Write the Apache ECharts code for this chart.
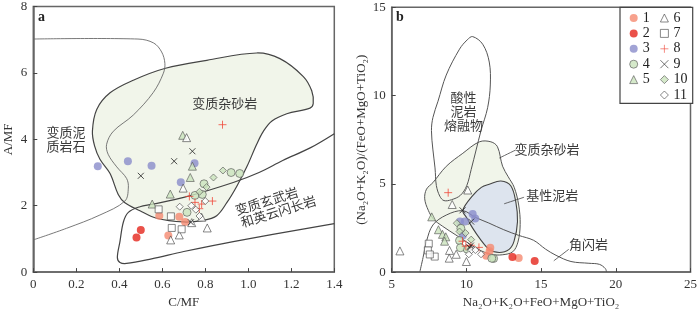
<!DOCTYPE html>
<html><head><meta charset="utf-8">
<script src="https://cdn.jsdelivr.net/npm/echarts@6/dist/echarts.min.js"></script>
<style>html,body{margin:0;padding:0;background:#fff}#c{width:700px;height:314px}</style>
</head><body><div id="c"></div>
<script>
// ---------- Panel a : C/MF (x) vs A/MF (y) ----------
const aS1 = [[0.586,1.70],[0.679,1.67],[0.706,1.51],[0.628,1.10]];
const aS2 = [[0.50,1.27],[0.48,1.04]];
const aS3 = [[0.30,3.19],[0.44,3.34],[0.55,3.20],[0.75,3.28],[0.686,2.71]];
const aS4 = [[0.92,3.0],[0.96,2.97],[0.794,2.66],[0.752,2.31],[0.786,2.34],[0.715,1.80]];
const aS5 = [[0.695,4.12],[0.74,3.19],[0.73,2.85],[0.637,2.35],[0.553,2.05]];
const aS6 = [[0.713,4.05],[0.697,2.53],[0.737,1.49],[0.809,1.33],[0.679,1.12],[0.639,0.97],[0.783,1.65]];
const aS7 = [[0.583,1.89],[0.64,1.68],[0.644,1.33],[0.69,1.29]];
const aS8 = [[0.88,4.44],[0.726,2.28],[0.752,2.10],[0.783,2.05],[0.833,2.14],[0.772,1.91]];
const aS9 = [[0.74,3.64],[0.655,3.34],[0.50,2.90],[0.733,1.50]];
const aS10 = [[0.882,3.06],[0.838,2.85],[0.806,2.56],[0.773,2.42]];
const aS11 = [[0.681,1.97],[0.735,2.0],[0.756,1.88],[0.80,2.14],[0.773,1.69]];

// field boundaries, panel a
const aPelite = [[0,7.02],[0.487,7.02],[0.56,6.9],[0.597,6.63],[0.612,6.29],[0.605,5.99],[0.558,5.41],[0.465,4.73],[0.372,4.24],[0.341,3.85],[0.348,3.55],[0.388,3.17],[0.434,2.82],[0.442,2.53],[0.426,2.14],[0.31,1.72],[0.155,1.32],[0,0.97]];
const aGreywacke = [[0.357,2.97],[0.31,3.4],[0.285,3.8],[0.275,4.25],[0.295,4.9],[0.357,5.4],[0.465,5.78],[0.615,6.14],[0.807,6.38],[1.039,6.6],[1.147,6.43],[1.256,5.89],[1.295,5.46],[1.302,5.08],[1.287,4.94],[1.179,4.77],[1.11,4.55],[1.07,4.24],[1.039,3.85],[0.993,3.17],[0.946,2.58],[0.90,2.09],[0.853,1.70],[0.791,1.56],[0.698,1.51],[0.57,1.63],[0.496,1.85],[0.426,2.09],[0.395,2.34]];
const aBasalt = [[1.40,4.17],[1.29,3.75],[1.16,3.36],[1.05,3.0],[0.93,2.7],[0.70,2.25],[0.55,2.04],[0.496,1.97],[0.442,1.80],[0.419,1.51],[0.403,0.92],[0.391,0.44],[0.403,0.29],[0.434,0.26],[0.55,0.40],[0.70,0.62],[0.93,0.92],[1.40,1.46]];

// ---------- Panel b : Na2O+K2O+FeO+MgO+TiO2 (x) vs ratio (y) ----------
const bS1 = [[13.5,0.8],[11.55,1.18],[11.33,0.92],[11.6,1.38]];
const bS2 = [[13.08,0.85],[14.57,0.63]];
const bS3 = [[10.42,3.29],[10.59,3.04],[9.57,2.86],[9.9,2.86],[9.76,2.07]];
const bS4 = [[9.54,1.79],[9.63,2.48],[10.05,1.3],[11.82,0.77],[11.7,0.78],[9.6,1.38]];
const bS5 = [[7.68,3.13],[8.13,2.40],[8.4,2.14],[8.62,2.0],[8.54,1.75]];
const bS6 = [[5.55,1.2],[10.09,4.65],[9.05,3.83],[8.87,1.23],[8.85,0.79],[10.0,0.6],[9.32,1.01]];
const bS7 = [[7.48,1.61],[7.42,1.23],[7.88,0.88],[7.55,1.0]];
const bS8 = [[8.78,4.5],[9.74,1.75],[9.96,1.47],[10.84,1.40],[10.3,1.52]];
const bS9 = [[9.74,3.5],[10.32,2.86],[10.3,1.5],[10.2,1.4]];
const bS10 = [[9.36,2.77],[9.54,2.3],[9.94,2.21],[10.32,1.84]];
const bS11 = [[10.32,1.23],[10.16,1.01],[10.98,1.01],[10.6,1.25]];

// field boundaries, panel b
const bMelt = [[10.42,13.34],[11.09,12.91],[11.53,11.9],[11.6,10.6],[11.42,9.31],[10.98,8.02],[10.65,6.92],[10.32,5.81],[10.02,4.89],[9.6,4.35],[9.0,4.1],[8.5,4.05],[8.22,4.3],[7.99,4.9],[7.9,5.9],[7.76,6.92],[7.66,8.02],[7.76,8.76],[8.1,9.68],[8.65,11.16],[9.54,12.63],[10.05,13.15]];
const bGreywacke = [[10.87,7.38],[11.64,7.38],[12.08,7.1],[12.42,6.0],[12.8,5.4],[13.2,4.8],[13.5,3.8],[13.6,2.7],[13.45,1.7],[13.1,1.15],[12.4,0.98],[11.7,1.0],[11.0,1.2],[10.2,1.6],[9.3,2.1],[8.4,2.6],[7.8,3.0],[7.45,3.5],[7.21,4.15],[7.33,4.7],[7.76,5.07],[8.65,5.99],[9.76,6.73]];
const bBasic = [[9.76,3.5],[10.42,4.33],[11.0,4.8],[11.53,4.98],[12.31,5.16],[12.97,4.89],[13.31,3.96],[13.42,2.86],[13.19,1.75],[12.86,1.29],[12.2,1.11],[11.53,1.29],[10.9,1.9],[10.42,2.49],[10.0,3.1]];
const bHorn = [[6.88,0],[7.1,0.83],[7.33,1.75],[7.76,2.67],[8.65,3.23],[9.76,3.48],[10.6,3.1],[11.5,2.78],[12.5,2.4],[13.5,2.08],[14.5,1.8],[15.3,1.3],[16.0,0.95],[17.0,0.6],[18.2,0.5],[18.9,0.44],[19.3,0.2],[19.38,0]];
const bLeaders = [[[13.31,6.92],[12.2,6.46]],[[13.86,4.24],[12.53,3.87]],[[16.85,1.29],[15.85,0.64]]];

// axis ticks
const aXTicks = [0,0.2,0.4,0.6,0.8,1.0,1.2,1.4];
const aYTicks = [0,2,4,6,8];
const bXTicks = [5,10,15,20,25];
const bYTicks = [0,5,10,15];

// text annotations
const aLabelText = ['变质杂砂岩','变质泥\n质岩石','变质玄武岩','和英云闪长岩'];
const aLabelPos = [[0.891,5.10],[0.152,4.0],[1.085,2.14],[1.14,1.83]];
const aLabelRot = [0,0,17,17];
const bLabelText = ['酸性\n泥岩\n熔融物','变质杂砂岩','基性泥岩','角闪岩'];
const bLabelPos = [[9.80,9.15],[15.39,6.99],[15.74,4.37],[18.18,1.57]];
const bLabelRot = [0,0,0,0];

const names = ['1','2','3','4','5','6','7','8','9','10','11'];
const aSets = [aS1,aS2,aS3,aS4,aS5,aS6,aS7,aS8,aS9,aS10,aS11];
const bSets = [bS1,bS2,bS3,bS4,bS5,bS6,bS7,bS8,bS9,bS10,bS11];

const SERIF = '"Liberation Serif","Times New Roman",serif';
const CJK = '"Noto Sans CJK SC","Noto Sans CJK JP",sans-serif';
const GREEN = '#cbe3bd';
const STY = {
 '1': {symbol:'circle', symbolSize:8, itemStyle:{color:'#f58a70'}},
 '2': {symbol:'circle', symbolSize:8, itemStyle:{color:'#e5261c'}},
 '3': {symbol:'circle', symbolSize:8, itemStyle:{color:'#8a8ccb'}},
 '4': {symbol:'circle', symbolSize:8, itemStyle:{color:GREEN, borderColor:'#555', borderWidth:0.8}},
 '5': {symbol:'triangle', symbolSize:8, itemStyle:{color:GREEN, borderColor:'#555', borderWidth:0.8}},
 '6': {symbol:'triangle', symbolSize:8, itemStyle:{color:'#fff', borderColor:'#444', borderWidth:0.8}},
 '7': {symbol:'rect', symbolSize:7, itemStyle:{color:'#fff', borderColor:'#444', borderWidth:0.8}},
 '8': {symbol:'path://M0,5L10,5M5,0L5,10', symbolSize:8, itemStyle:{color:'#f0483a', borderColor:'#f0483a', borderWidth:1}},
 '9': {symbol:'path://M0,0L10,10M0,10L10,0', symbolSize:6, itemStyle:{color:'#222', borderColor:'#222', borderWidth:1}},
 '10': {symbol:'path://M5,0L10,5L5,10L0,5Z', symbolSize:7, itemStyle:{color:GREEN, borderColor:'#555', borderWidth:0.8}},
 '11': {symbol:'path://M5,0L10,5L5,10L0,5Z', symbolSize:7, itemStyle:{color:'#fff', borderColor:'#444', borderWidth:0.8}}
};

function shapeSeries(pts, g, closed, style, z) {
  return {
    type:'custom', coordinateSystem:'cartesian2d', xAxisIndex:g, yAxisIndex:g,
    data:[pts[0]], silent:true, z:z, clip:true, animation:false,
    renderItem:(params, api) => ({
      type: closed ? 'polygon' : 'polyline',
      shape:{points: pts.map(p => api.coord(p)), smooth:0.35},
      style: Object.assign({fill: closed ? style.fill : null}, style)
    })
  };
}
function textSeries(pos, txt, rot, g) {
  return {
    type:'custom', coordinateSystem:'cartesian2d', xAxisIndex:g, yAxisIndex:g,
    data:pos, silent:true, z:6, animation:false,
    renderItem:(params, api) => {
      const i = params.dataIndex;
      const p = api.coord([api.value(0), api.value(1)]);
      return {type:'text', x:p[0], y:p[1], rotation: rot[i]*Math.PI/180,
        style:{text:txt[i], fill:'#3a3a3a', fontSize:13, fontFamily:CJK, align:'center', verticalAlign:'middle', lineHeight:14}};
    }
  };
}

const series = [];
const thin = {stroke:'#6a6a6a', lineWidth:0.9, fill:null};
const thick = {stroke:'#444', lineWidth:1.2, fill:null};
series.push(shapeSeries(aGreywacke, 0, true, {fill:'#f1f5ea', stroke:'#444', lineWidth:1.2}, 1));
series.push(shapeSeries(aPelite, 0, false, thin, 1));
series.push(shapeSeries(aBasalt, 0, false, thick, 1));
series.push(shapeSeries(bGreywacke, 1, true, {fill:'#f1f5ea', stroke:'#555', lineWidth:1}, 1));
series.push(shapeSeries(bBasic, 1, true, {fill:'#dde4ee', stroke:'#444', lineWidth:1.1}, 1));
series.push(shapeSeries(bMelt, 1, true, {fill:null, stroke:'#555', lineWidth:1}, 1));
series.push(shapeSeries(bHorn, 1, false, {stroke:'#555', lineWidth:1, fill:null}, 1));
bLeaders.forEach(l => series.push(shapeSeries(l, 1, false, {stroke:'#444', lineWidth:0.8, fill:null}, 1)));

names.forEach((n, k) => {
  [aSets[k], bSets[k]].forEach((d, g) => {
    series.push(Object.assign({type:'scatter', name:n, xAxisIndex:g, yAxisIndex:g, data:d, z:3,
      emphasis:{disabled:true}, animation:false}, STY[n]));
  });
});
series.push(textSeries(aLabelPos, aLabelText, aLabelRot, 0));
series.push(textSeries(bLabelPos, bLabelText, bLabelRot, 1));

function axisBase(ticks) {
  return {
    type:'value', min:ticks[0], max:ticks[ticks.length-1], interval:ticks[1]-ticks[0],
    axisLine:{show:true, lineStyle:{color:'#666', width:1.5}},
    axisTick:{show:true, inside:true, length:4, lineStyle:{color:'#444', width:1}},
    splitLine:{show:false},
    axisLabel:{color:'#333', fontFamily:SERIF, fontSize:13, margin:6},
    nameLocation:'middle',
    nameTextStyle:{color:'#333', fontFamily:SERIF, fontSize:13}
  };
}
const xa = Object.assign(axisBase(aXTicks), {gridIndex:0, name:'C/MF', nameGap:20});
xa.axisLabel = Object.assign({}, xa.axisLabel, {formatter: v => v === 0 ? '0' : v.toFixed(1)});
const ya = Object.assign(axisBase(aYTicks), {gridIndex:0, name:'A/MF', nameGap:18, nameRotate:90});
const xb = Object.assign(axisBase(bXTicks), {gridIndex:1, name:'Na₂O+K₂O+FeO+MgO+TiO₂', nameGap:20});
const yb = Object.assign(axisBase(bYTicks), {gridIndex:1, name:'(Na₂O+K₂O)/(FeO+MgO+TiO₂)', nameGap:24, nameRotate:90});

const legendBase = {orient:'vertical', top:11, padding:0, itemWidth:8, itemHeight:8, itemGap:1.4,
  selectedMode:false, z:10, itemStyle:{borderWidth:0.8},
  textStyle:{fontFamily:SERIF, fontSize:14, color:'#222', lineHeight:13}};

const option = {
  animation:false,
  grid:[
    {left:33.3, top:5, width:301, height:273.3, show:true, borderColor:'#666', borderWidth:1.5, backgroundColor:'transparent'},
    {left:391.7, top:7.3, width:301, height:271, show:true, borderColor:'#666', borderWidth:1.5, backgroundColor:'transparent'}
  ],
  xAxis:[xa, xb], yAxis:[ya, yb],
  legend:[
    Object.assign({}, legendBase, {left:629.3, data:names.slice(0,5)}),
    Object.assign({}, legendBase, {left:660, data:names.slice(5)})
  ],
  graphic:[
    {type:'rect', shape:{x:620, y:7.3, width:72.7, height:96}, style:{fill:'#fff', stroke:'#444', lineWidth:1.2}, z:1, silent:true},
    {type:'text', x:41.5, y:17, style:{text:'a', fontFamily:SERIF, fontWeight:'bold', fontSize:14, fill:'#222', align:'center', verticalAlign:'middle'}, z:10},
    {type:'text', x:400, y:17.5, style:{text:'b', fontFamily:SERIF, fontWeight:'bold', fontSize:14, fill:'#222', align:'center', verticalAlign:'middle'}, z:10}
  ],
  series:series
};
const chart = echarts.init(document.getElementById('c'), null, {renderer:'canvas'});
chart.setOption(option);
</script></body></html>
